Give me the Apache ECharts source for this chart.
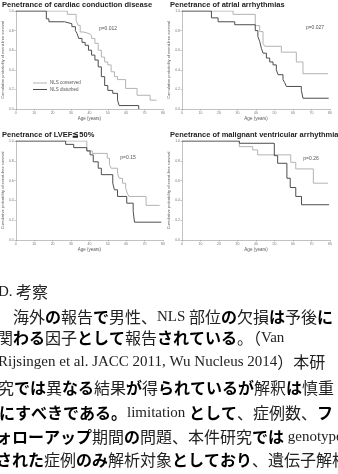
<!DOCTYPE html>
<html>
<head>
<meta charset="utf-8">
<script src="https://cdn.jsdelivr.net/npm/echarts@6/dist/echarts.min.js"></script>
<style>
  html, body { margin: 0; padding: 0; background: #fff; }
  #main { width: 338px; height: 474px; }
</style>
</head>
<body>
<div id="main"></div>
<script>
// 軸・ラベル
const ageTicks = [0, 80, 10];        // min, max, interval
const survTicks = [0, 1, 0.2];
const panelTitles = [
  'Penetrance of cardiac conduction disease',
  'Penetrance of atrial arrhythmias',
  'Penetrance of LVEF≦50%',
  'Penetrance of malignant ventricular arrhythmias'
];
const pValues = ['p=0.012', 'p=0.027', 'p=0.15', 'p=0.26'];
const groupNames = ['NLS conserved', 'NLS disturbed'];

// Kaplan-Meier [age, survival]
const ccdConserved = [[0,1],[28,0.966],[32.8,0.905],[33.8,0.854],[35,0.786],[36.8,0.77],[39.8,0.75],[41.2,0.72],[43,0.67],[44.8,0.6],[46.5,0.53],[48.3,0.48],[50,0.45],[51.8,0.38],[53.6,0.33],[55.3,0.3],[59.7,0.21],[65.9,0.14],[73,0.09],[76.5,0.09]];
const ccdDisturbed = [[0,1],[16.6,0.92],[18,0.89],[26.5,0.87],[30.5,0.84],[32.4,0.8],[33.3,0.77],[34.2,0.72],[36,0.68],[37.7,0.65],[39.5,0.6],[41.2,0.55],[43,0.5],[44.8,0.43],[46.5,0.33],[48.3,0.24],[50,0.19],[52.7,0.16],[55.3,0.09],[56.2,0.035],[66.8,0]];
const afConserved = [[0,1],[27.6,0.966],[39.6,0.85],[42,0.79],[43.8,0.67],[44.7,0.64],[53.7,0.58],[61.8,0.48],[65.4,0.36],[78.9,0.36]];
const afDisturbed = [[0,1],[15.9,0.93],[19.5,0.89],[28.5,0.86],[39.6,0.8],[41,0.74],[42,0.69],[42.9,0.62],[43.8,0.57],[45.6,0.52],[47.4,0.48],[49.2,0.45],[51,0.4],[51.9,0.35],[54.6,0.3],[55.5,0.27],[56.4,0.23],[64.5,0.19],[65.4,0.11],[79.3,0.11]];
const lvefConserved = [[0,1],[38.6,0.9],[41.6,0.875],[49.7,0.826],[50.9,0.765],[51.8,0.725],[55.3,0.675],[56.2,0.624],[58,0.574],[59.7,0.523],[60.6,0.473],[61.5,0.44],[70.8,0.35],[78.2,0.35]];
const lvefDisturbed = [[0,1],[27.1,0.966],[31.5,0.933],[38.6,0.9],[40.4,0.86],[42.1,0.79],[44.8,0.725],[46.5,0.66],[52.7,0.574],[53.6,0.507],[55.3,0.44],[60.3,0.372],[63.8,0.29],[64.5,0.18],[79.1,0.18]];
const vaConserved = [[0,1],[31,0.943],[38.2,0.91],[40.9,0.86],[58.8,0.785],[61.5,0.718],[71,0.574],[78.9,0.574]];
const vaDisturbed = [[0,1],[31,0.977],[49.9,0.852],[51.7,0.775],[56.7,0.624],[58.5,0.53],[61.5,0.44],[64.6,0.356],[79.5,0.356]];

const panelData = [
  [ccdConserved, ccdDisturbed],
  [afConserved, afDisturbed],
  [lvefConserved, lvefDisturbed],
  [vaConserved, vaDisturbed]
];

// 本文 (rich text: n=漢字, b=かな, l=欧文)
const bodyLines = [
  '{l|D.} {n|考察}',
  '{n|　海外}{b|の}{n|報告}{b|で}{n|男性、}{l|NLS }{n|部位}{b|の}{n|欠損}{b|は}{n|予後}{b|に}',
  '{n|関}{b|わる}{n|因子}{b|として}{n|報告}{b|されている}{n|。（}{l|Van}',
  '{l|Rijsingen et al. JACC 2011, Wu Nucleus 2014}{n|）本研}',
  '{n|究}{b|では}{n|異}{b|なる}{n|結果}{b|が}{n|得}{b|られているが}{n|解釈}{b|は}{n|慎重}',
  '{b|にすべきである。}{l|limitation }{b|として}{n|、症例数、}{b|フ}',
  '{b|ォローアップ}{n|期間}{b|の}{n|問題、本件研究}{b|では}{l| genotype}',
  '{b|された}{n|症例}{b|のみ}{n|解析対象}{b|としており}{n|、遺伝子解析}'
];

const grids = [
  { left: 12, top: 11, width: 151, height: 98 },
  { left: 182, top: 11, width: 148, height: 98 },
  { left: 12, top: 141, width: 151, height: 99 },
  { left: 182, top: 141, width: 148, height: 99 }
];
const titlePos = [[2, 1], [170, 1], [2, 130.5], [170, 130.5]];
const pPos = [[108, 29], [315, 28], [128, 158], [311, 159]];
const lineY = [292, 317, 338, 362, 388, 413, 437, 460];
const lineX = [-2, -3, -3, -2, -2, -1, -4, -4];

const lightColor = '#b3b3b3';
const darkColor = '#4d4d4d';
const sans = 'Liberation Sans, Arial, sans-serif';

let option = {
  backgroundColor: '#fff',
  animation: false,
  title: panelTitles.map((t, i) => ({
    text: t,
    left: titlePos[i][0],
    top: titlePos[i][1],
    padding: 0,
    textStyle: { fontSize: 7.5, fontWeight: 'bold', fontFamily: sans, color: '#222' }
  })),
  legend: {
    data: groupNames,
    orient: 'vertical',
    left: 33,
    top: 80.5,
    padding: 0,
    itemGap: 1.5,
    itemWidth: 14,
    itemHeight: 1,
    icon: 'rect',
    textStyle: { fontSize: 4.5, fontFamily: sans, color: '#555', padding: [0, 0, 0, -2] }
  },
  grid: grids,
  xAxis: grids.map((g, i) => ({
    gridIndex: i,
    type: 'value',
    min: ageTicks[0],
    max: ageTicks[1],
    interval: ageTicks[2],
    name: 'Age (years)',
    nameLocation: 'middle',
    nameGap: 7,
    nameTextStyle: { fontSize: 4.5, fontFamily: sans, color: '#555' },
    axisLine: { lineStyle: { color: '#999', width: 0.6 } },
    axisTick: { length: 1.5, lineStyle: { color: '#999', width: 0.6 } },
    axisLabel: { fontSize: 3.5, fontFamily: sans, color: '#777', margin: 2.5 },
    splitLine: { show: false }
  })),
  yAxis: grids.map((g, i) => ({
    gridIndex: i,
    type: 'value',
    min: survTicks[0],
    max: survTicks[1],
    interval: survTicks[2],
    name: 'Cumulative probability of event-free survival',
    nameLocation: 'middle',
    nameRotate: 90,
    nameGap: 7.5,
    nameTextStyle: { fontSize: 4, fontFamily: sans, color: '#555' },
    axisLine: { show: true, lineStyle: { color: '#999', width: 0.6 } },
    axisTick: { show: true, length: 1.5, lineStyle: { color: '#999', width: 0.6 } },
    axisLabel: { fontSize: 3.5, fontFamily: sans, color: '#777', margin: 2, formatter: v => v.toFixed(1) },
    splitLine: { show: false }
  })),
  series: [],
  graphic: []
};

panelData.forEach((pair, i) => {
  pair.forEach((d, j) => {
    option.series.push({
      name: groupNames[j],
      type: 'line',
      xAxisIndex: i,
      yAxisIndex: i,
      step: 'end',
      symbol: 'none',
      data: d,
      color: j == 0 ? lightColor : darkColor,
      lineStyle: { width: 1, color: j == 0 ? lightColor : darkColor },
      z: j == 0 ? 2 : 3
    });
  });
});

pValues.forEach((p, i) => {
  option.graphic.push({
    type: 'text',
    x: pPos[i][0],
    y: pPos[i][1],
    style: { text: p, fontSize: 5, fontFamily: sans, fill: '#555', align: 'center', verticalAlign: 'middle' }
  });
});

const rich = {
  n: { fontFamily: 'Noto Sans CJK JP', fontSize: 16, fontWeight: 'normal', fill: '#222' },
  b: { fontFamily: 'Noto Sans CJK JP', fontSize: 16, fontWeight: 'bold', fill: '#000' },
  l: { fontFamily: 'Liberation Serif', fontSize: 15, fill: '#222' }
};
bodyLines.forEach((t, i) => {
  option.graphic.push({
    type: 'text',
    x: lineX[i],
    y: lineY[i],
    style: { text: t, rich: rich, verticalAlign: 'middle', align: 'left' }
  });
});

let chart = echarts.init(document.getElementById('main'));
chart.setOption(option);
</script>
</body>
</html>
